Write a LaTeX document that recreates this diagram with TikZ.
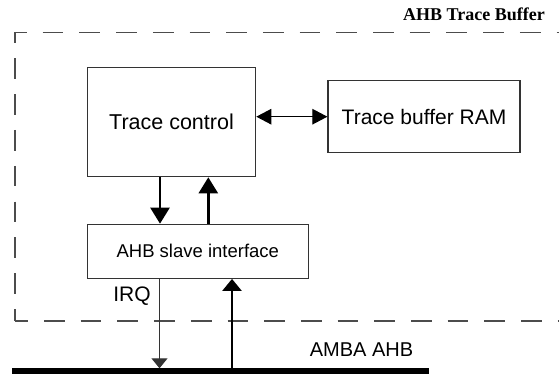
\documentclass[tikz,border=0pt]{standalone}
\usepackage{fontspec}
\setmainfont{Liberation Serif}
\setsansfont{Liberation Sans}
\usetikzlibrary{arrows.meta}
\begin{document}
\begin{tikzpicture}[x=1pt,y=-1pt,
  blk/.style={draw=black!80, line width=1.2pt, inner sep=0pt, font=\sffamily\fontsize{21}{23}\selectfont},
  thickarrow/.style={line width=2.5pt, -{Triangle[length=16pt,width=19pt]}},
  thinarrow/.style={line width=1.3pt, draw=black!80, -{Triangle[length=10pt,width=16pt]}},
  dashline/.style={draw=black!70, line width=1.5pt},
  lbl/.style={font=\sffamily\fontsize{21}{23}\selectfont, inner sep=0pt}]
\useasboundingbox (0,0) rectangle (559,374);
% dashed enclosure
\draw[dashline, dash pattern=on 20.7pt off 16pt, dash phase=9pt] (15,32.3) -- (600,32.3);
\draw[dashline, dash pattern=on 20.7pt off 15.1pt, dash phase=9.7pt] (15,32.3) -- (15,321);
\draw[dashline, dash pattern=on 20.7pt off 16pt, dash phase=7.7pt] (15,321) -- (600,321);
\node[anchor=base east, inner sep=0pt, font=\bfseries\fontsize{18}{20}\selectfont] (title) at (545,21) {AHB Trace Buffer};
% blocks
\node[blk, minimum width=168.4pt, minimum height=109.4pt, font=\sffamily\fontsize{21.5}{23}\selectfont] (tc) at (171.5,122) {Trace control};
\node[blk, minimum width=192pt, minimum height=72pt] (ram) at (424,116.7) {Trace buffer RAM};
\node[blk, minimum width=221pt, minimum height=54pt, font=\sffamily\fontsize{18.5}{20}\selectfont] (ahb) at (197.8,251.3) {AHB slave interface};
% bus
\coordinate (busL) at (12,371.5);
\coordinate (busR) at (429,371.5);
\draw[line width=6.5pt] (busL) -- (busR);
\coordinate (irqEnd) at (159.5,368.3);
\coordinate (inStart) at (232,368.3);
% connectors
\draw[line width=1.1pt, {Triangle[length=15pt,width=15.5pt]}-{Triangle[length=15pt,width=15.5pt]}] (tc.east |- 0,116.7) -- (ram.west |- 0,116.7);
\draw[thickarrow] (tc.south -| 160,0) -- (ahb.north -| 160,0);
\draw[thickarrow] (ahb.north -| 208.3,0) -- (tc.south -| 208.3,0);
\draw[thinarrow] (ahb.south -| 159.5,0) -- (irqEnd);
\draw[line width=2.5pt, -{Triangle[length=12pt,width=19pt]}] (inStart) -- (ahb.south -| 232,0);
% labels
\node[lbl] (irq) at (132,296) {IRQ};
\node[lbl, font=\sffamily\fontsize{20}{22}\selectfont] (amba) at (361.5,350) {AMBA AHB};
\end{tikzpicture}
\end{document}
